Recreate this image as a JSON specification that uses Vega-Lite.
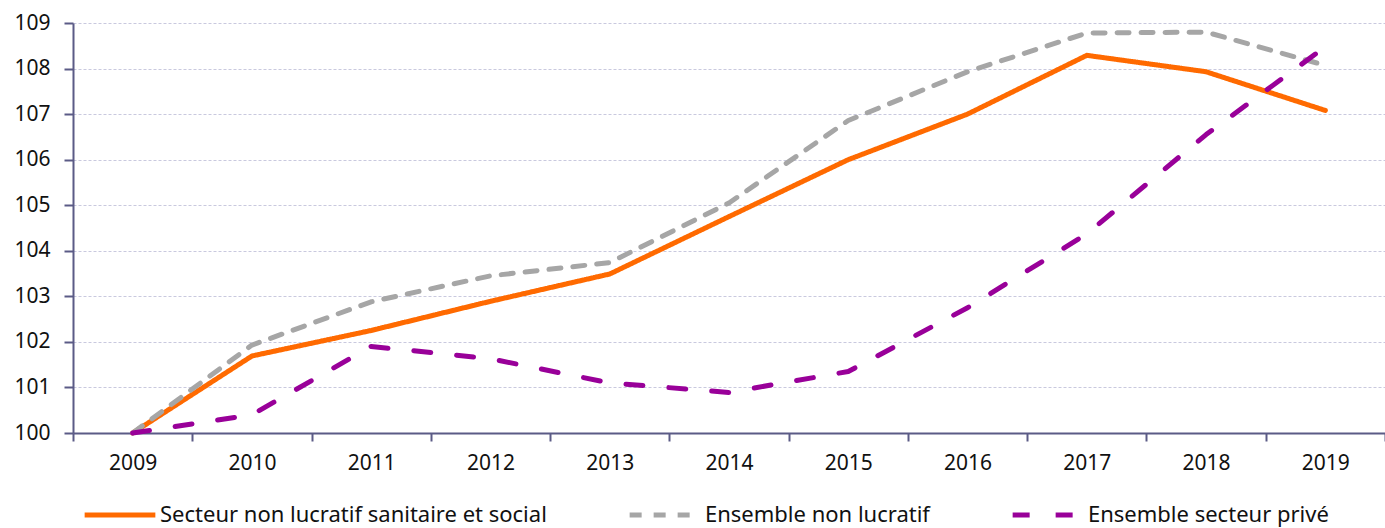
{
  "$schema": "https://vega.github.io/schema/vega-lite/v6.json",
  "width": 1312,
  "height": 410,
  "autosize": {"type": "none"},
  "padding": {"left": 73, "top": 23, "right": 0, "bottom": 95},
  "background": "white",
  "config": {
    "view": {"stroke": null},
    "font": "Noto Sans"
  },
  "data": {
    "values": [
      {"annee": "2009", "serie": "Secteur non lucratif sanitaire et social", "indice": 100},
      {"annee": "2010", "serie": "Secteur non lucratif sanitaire et social", "indice": 101.69},
      {"annee": "2011", "serie": "Secteur non lucratif sanitaire et social", "indice": 102.25},
      {"annee": "2012", "serie": "Secteur non lucratif sanitaire et social", "indice": 102.89},
      {"annee": "2013", "serie": "Secteur non lucratif sanitaire et social", "indice": 103.49},
      {"annee": "2014", "serie": "Secteur non lucratif sanitaire et social", "indice": 104.75},
      {"annee": "2015", "serie": "Secteur non lucratif sanitaire et social", "indice": 106.0},
      {"annee": "2016", "serie": "Secteur non lucratif sanitaire et social", "indice": 107.0},
      {"annee": "2017", "serie": "Secteur non lucratif sanitaire et social", "indice": 108.29},
      {"annee": "2018", "serie": "Secteur non lucratif sanitaire et social", "indice": 107.93},
      {"annee": "2019", "serie": "Secteur non lucratif sanitaire et social", "indice": 107.08},
      {"annee": "2009", "serie": "Ensemble non lucratif", "indice": 100},
      {"annee": "2010", "serie": "Ensemble non lucratif", "indice": 101.93},
      {"annee": "2011", "serie": "Ensemble non lucratif", "indice": 102.88},
      {"annee": "2012", "serie": "Ensemble non lucratif", "indice": 103.45},
      {"annee": "2013", "serie": "Ensemble non lucratif", "indice": 103.74},
      {"annee": "2014", "serie": "Ensemble non lucratif", "indice": 105.05},
      {"annee": "2015", "serie": "Ensemble non lucratif", "indice": 106.86},
      {"annee": "2016", "serie": "Ensemble non lucratif", "indice": 107.93},
      {"annee": "2017", "serie": "Ensemble non lucratif", "indice": 108.78},
      {"annee": "2018", "serie": "Ensemble non lucratif", "indice": 108.8},
      {"annee": "2019", "serie": "Ensemble non lucratif", "indice": 108.07},
      {"annee": "2009", "serie": "Ensemble secteur privé", "indice": 100},
      {"annee": "2010", "serie": "Ensemble secteur privé", "indice": 100.4},
      {"annee": "2011", "serie": "Ensemble secteur privé", "indice": 101.9},
      {"annee": "2012", "serie": "Ensemble secteur privé", "indice": 101.63},
      {"annee": "2013", "serie": "Ensemble secteur privé", "indice": 101.1},
      {"annee": "2014", "serie": "Ensemble secteur privé", "indice": 100.89},
      {"annee": "2015", "serie": "Ensemble secteur privé", "indice": 101.35},
      {"annee": "2016", "serie": "Ensemble secteur privé", "indice": 102.75},
      {"annee": "2017", "serie": "Ensemble secteur privé", "indice": 104.37},
      {"annee": "2018", "serie": "Ensemble secteur privé", "indice": 106.55},
      {"annee": "2019", "serie": "Ensemble secteur privé", "indice": 108.48}
    ]
  },
  "mark": {"type": "line", "strokeWidth": 5, "strokeCap": "round", "strokeJoin": "round"},
  "encoding": {
    "x": {
      "field": "annee",
      "type": "ordinal",
      "scale": {"paddingInner": 0, "paddingOuter": 0},
      "axis": {
        "title": null,
        "tickBand": "extent",
        "labelAngle": 0,
        "labelFontSize": 21,
        "labelColor": "#111111",
        "labelPadding": 11,
        "tickSize": 8,
        "tickWidth": 2,
        "tickColor": "#5b5b86",
        "domainColor": "#5b5b86",
        "domainWidth": 2,
        "grid": false
      }
    },
    "y": {
      "field": "indice",
      "type": "quantitative",
      "scale": {"domain": [100, 109], "nice": false, "zero": false},
      "axis": {
        "title": null,
        "values": [100, 101, 102, 103, 104, 105, 106, 107, 108, 109],
        "labelFontSize": 21,
        "labelColor": "#111111",
        "labelPadding": 14,
        "tickSize": 9,
        "tickWidth": 2,
        "tickColor": "#5b5b86",
        "domainColor": "#5b5b86",
        "domainWidth": 2,
        "grid": true,
        "gridColor": "#c9c9de",
        "gridDash": [3, 2],
        "gridWidth": 1
      }
    },
    "color": {
      "field": "serie",
      "type": "nominal",
      "scale": {
        "domain": ["Secteur non lucratif sanitaire et social", "Ensemble non lucratif", "Ensemble secteur privé"],
        "range": ["#ff6a00", "#a6a6a6", "#990099"]
      },
      "legend": {
        "title": null,
        "orient": "none",
        "legendX": 9,
        "legendY": 454,
        "direction": "horizontal",
        "columns": 3,
        "gridAlign": "none",
        "columnPadding": 72,
        "symbolType": "stroke",
        "symbolSize": 5000,
        "symbolStrokeWidth": 5,
        "labelFontSize": 22,
        "labelColor": "#111111",
        "labelOffset": 2,
        "labelLimit": 600
      }
    },
    "strokeDash": {
      "field": "serie",
      "type": "nominal",
      "scale": {
        "domain": ["Secteur non lucratif sanitaire et social", "Ensemble non lucratif", "Ensemble secteur privé"],
        "range": [[1, 0], [12, 12], [17, 26]]
      },
      "legend": null
    }
  }
}
